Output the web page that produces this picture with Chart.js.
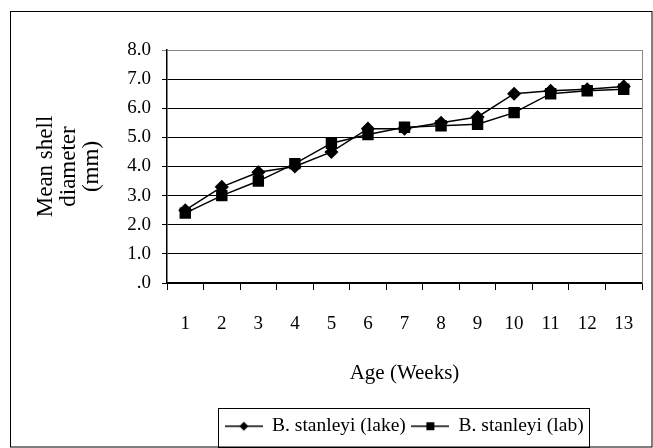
<!DOCTYPE html>
<html>
<head>
<meta charset="utf-8">
<script src="https://cdn.jsdelivr.net/npm/chart.js@4.4.1/dist/chart.umd.min.js"></script>
<style>
html,body{margin:0;padding:0;background:#fff;}
#wrap{width:653px;height:448px;}
</style>
</head>
<body>
<div id="wrap"><canvas id="chart" width="653" height="448"></canvas></div>
<script>
// data
const weeks = ["1","2","3","4","5","6","7","8","9","10","11","12","13"]
const lake = [2.5,3.3,3.8,4.0,4.5,5.3,5.3,5.5,5.7,6.5,6.6,6.65,6.75]
const lab = [2.4,3.0,3.5,4.1,4.8,5.1,5.35,5.4,5.45,5.85,6.5,6.6,6.65]
const yTicks = [".0","1.0","2.0","3.0","4.0","5.0","6.0","7.0","8.0"]

const FONT = "'Liberation Serif', 'Times New Roman', serif"

// legend symbol: line with marker in the middle
function legendIcon(kind){
  const c = document.createElement("canvas")
  c.width = 38
  c.height = 12
  const g = c.getContext("2d")
  g.strokeStyle = "#000"
  g.lineWidth = 1.5
  g.beginPath()
  g.moveTo(0,6)
  g.lineTo(38,6)
  g.stroke()
  g.fillStyle = "#000"
  if(kind === "diamond"){
    g.beginPath()
    g.moveTo(19,1.5)
    g.lineTo(23.5,6)
    g.lineTo(19,10.5)
    g.lineTo(14.5,6)
    g.closePath()
    g.fill()
  }else{
    g.fillRect(15,2,8,8)
  }
  return c
}

// outer frame, plot border (gray top/right) and legend box
const framePlugin = {
  id:"frame",
  afterDraw(chart){
    const ctx = chart.ctx
    const a = chart.chartArea
    ctx.save()
    ctx.strokeStyle = "#000"
    ctx.lineWidth = 1
    ctx.strokeRect(10.5, 11.5, 641.5, 435.5)

    ctx.strokeStyle = "#888"
    ctx.beginPath()
    ctx.moveTo(Math.round(a.right)+0.5, a.top)
    ctx.lineTo(Math.round(a.right)+0.5, a.bottom)
    ctx.stroke()

    const hb = chart.legend.legendHitBoxes
    if(hb && hb.length){
      const l = hb[0].left - 7
      const r = hb[hb.length-1].left + hb[hb.length-1].width + 6
      const t = hb[0].top - 9
      const b = hb[0].top + hb[0].height + 10
      ctx.strokeStyle = "#000"
      ctx.strokeRect(Math.round(l)+0.5, Math.round(t)+0.5, Math.round(r-l), Math.round(b-t))
    }
    ctx.restore()
  }
}

const ctx = document.getElementById("chart")

new Chart(ctx,{
  type:"line",
  data:{
    labels:weeks,
    datasets:[
      {
        label:"B. stanleyi (lake)",
        data:lake,
        borderColor:"#000",
        backgroundColor:"#000",
        borderWidth:1.5,
        pointStyle:"rectRot",
        pointRadius:6,
        tension:0,
        fill:false
      },
      {
        label:"B. stanleyi (lab)",
        data:lab,
        borderColor:"#000",
        backgroundColor:"#000",
        borderWidth:1.5,
        pointStyle:"rect",
        pointRadius:7,
        tension:0,
        fill:false
      }
    ]
  },
  options:{
    responsive:false,
    animation:false,
    events:[],
    layout:{padding:{left:0,right:11,top:50,bottom:2}},
    plugins:{
      tooltip:{enabled:false},
      legend:{
        position:"bottom",
        fullSize:false,
        labels:{
          color:"#000",
          font:{family:FONT,size:19.5},
          usePointStyle:true,
          pointStyleWidth:37,
          padding:6,
          generateLabels(chart){
            return chart.data.datasets.map((ds,i)=>({
              text:ds.label,
              pointStyle:legendIcon(i===0 ? "diamond" : "square"),
              fillStyle:"#000",
              strokeStyle:"#000",
              lineWidth:0,
              fontColor:"#000",
              datasetIndex:i
            }))
          }
        }
      }
    },
    scales:{
      x:{
        offset:true,
        afterFit(s){
          s.height = 127.5
          s.paddingLeft = 0
          s.paddingRight = 0
        },
        grid:{
          offset:true,
          drawOnChartArea:false,
          drawTicks:true,
          tickLength:7,
          color:"#000"
        },
        border:{display:true,color:"#000",width:1.5},
        ticks:{color:"#000",font:{family:FONT,size:19},padding:23,maxRotation:0},
        title:{
          display:true,
          text:"Age (Weeks)",
          color:"#000",
          font:{family:FONT,size:21},
          padding:{top:0,bottom:24}
        }
      },
      y:{
        min:0,
        max:8,
        afterFit(s){ s.width = 167 },
        grid:{
          color:(c)=> c.tick && c.tick.value === 8 ? "#888" : "#000",
          lineWidth:1,
          tickLength:5,
          drawTicks:true
        },
        border:{display:true,color:"#000",width:1.5},
        ticks:{
          stepSize:1,
          color:"#000",
          font:{family:FONT,size:19},
          padding:11,
          callback:(v)=> yTicks[v]
        },
        title:{
          display:true,
          text:["Mean shell","diameter","(mm)"],
          color:"#000",
          font:{family:FONT,size:23,lineHeight:1.0},
          padding:{top:34,bottom:0}
        }
      }
    }
  },
  plugins:[framePlugin]
})
</script>
</body>
</html>
